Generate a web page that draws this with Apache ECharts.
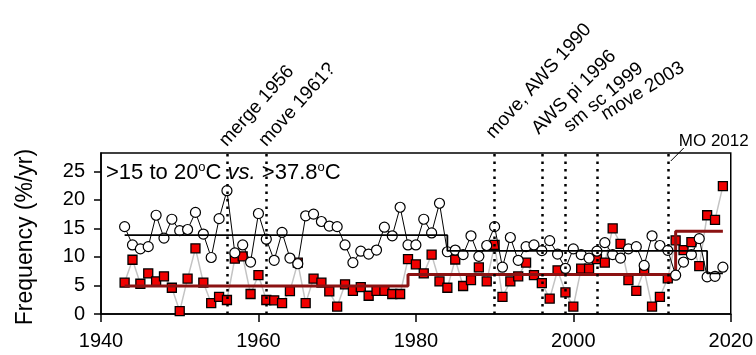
<!DOCTYPE html>
<html>
<head>
<meta charset="utf-8">
<script src="https://cdn.jsdelivr.net/npm/echarts@6/dist/echarts.min.js"></script>
<style>
  html, body { margin: 0; padding: 0; background: #fff; }
  #chart { width: 756px; height: 355px; }
</style>
</head>
<body>
<div id="chart"></div>
<script>
// Station years
const years = [
  1943, 1944, 1945, 1946, 1947, 1948, 1949, 1950, 1951, 1952,
  1953, 1954, 1955, 1956, 1957, 1958, 1959, 1960, 1961, 1962,
  1963, 1964, 1965, 1966, 1967, 1968, 1969, 1970, 1971, 1972,
  1973, 1974, 1975, 1976, 1977, 1978, 1979, 1980, 1981, 1982,
  1983, 1984, 1985, 1986, 1987, 1988, 1989, 1990, 1991, 1992,
  1993, 1994, 1995, 1996, 1997, 1998, 1999, 2000, 2001, 2002,
  2003, 2004, 2005, 2006, 2007, 2008, 2009, 2010, 2011, 2012,
  2013, 2014, 2015, 2016, 2017, 2018, 2019
];

// Frequency (%/yr) of days with max temperature >15 to 20 °C
const mildFreq = [
  15.3, 12.1, 11.4, 11.8, 17.3, 13.3, 16.6, 14.6, 14.8, 17.8,
  14.0, 9.9, 16.7, 21.6, 10.7, 12.1, 9.1, 17.6, 13.1, 9.4,
  14.3, 9.8, 8.8, 17.2, 17.5, 16.2, 15.4, 15.3, 12.1, 9.0,
  11.0, 10.5, 11.2, 15.2, 13.7, 18.7, 12.1, 12.1, 16.6, 14.2,
  19.4, 10.9, 11.2, 10.4, 13.7, 10.1, 12.0, 15.3, 8.2, 13.4,
  9.4, 11.8, 12.1, 11.1, 12.85, 10.5, 8.0, 11.4, 10.4, 9.8,
  11.0, 12.5, 10.4, 9.8, 11.4, 11.8, 8.5, 13.7, 12.0, 11.15,
  6.8, 9.1, 10.4, 13.2, 6.5, 6.6, 8.2
];

// Frequency (%/yr) of days with max temperature >37.8 °C
const hotFreq = [
  5.5, 9.5, 5.3, 7.1, 5.7, 6.6, 4.6, 0.5, 6.2, 11.5,
  5.5, 1.9, 3.0, 2.45, 9.7, 10.1, 3.5, 6.8, 2.45, 2.4,
  1.9, 4.0, 9.0, 1.9, 6.2, 5.5, 3.95, 1.3, 5.2, 4.05,
  4.7, 3.2, 4.05, 4.05, 3.5, 3.5, 9.6, 8.7, 7.1, 10.4,
  5.7, 4.6, 9.55, 4.9, 5.95, 8.15, 5.7, 12.1, 3.0, 5.7,
  6.6, 9.0, 6.8, 5.4, 2.7, 7.65, 3.8, 1.3, 7.95, 7.95,
  9.6, 9.0, 15.0, 12.3, 5.95, 4.05, 7.7, 1.3, 3.0, 6.25,
  12.9, 11.2, 12.6, 8.4, 17.3, 16.5, 22.4
];

// Segment means between detected change points
const mildStepBreaks = [1943, 1984, 2017, 2019];
const mildStepLevels = [13.8, 11.05, 7.1];
const hotStepBreaks = [1943, 1979, 2013, 2019];
const hotStepLevels = [4.9, 6.9, 14.5];

// Station history events
const eventYears = [1956, 1961, 1990, 1996, 1999, 2003, 2012];
const eventLabels = ['merge 1956', 'move 1961?', 'move, AWS 1990', 'AWS pi 1996',
                     'sm sc 1999', 'move 2003', 'MO 2012'];

// Axis ticks
const xTicks = [1940, 1960, 1980, 2000, 2020];
const yTicks = [0, 5, 10, 15, 20, 25];

const FONT = '"Liberation Sans", Arial, sans-serif';
const Y_TOP = 28.2;

function pairs(xs, ys) {
  return xs.map((x, i) => [x, ys[i]]);
}
function stepLine(breaks, levels) {
  const pts = [];
  levels.forEach((lv, i) => {
    pts.push([breaks[i], lv]);
    pts.push([breaks[i + 1], lv]);
  });
  return pts;
}

const chart = echarts.init(document.getElementById('chart'), null, { renderer: 'canvas' });

const option = {
  animation: false,
  backgroundColor: '#fff',
  grid: {
    left: 101, right: 25, top: 153, bottom: 41,
    show: true, borderColor: '#000', borderWidth: 1.5,
    backgroundColor: 'transparent'
  },
  xAxis: {
    type: 'value',
    min: xTicks[0], max: xTicks[xTicks.length - 1], interval: 20,
    axisLine: { onZero: false, lineStyle: { color: '#000', width: 1.5 } },
    axisTick: { length: 8, lineStyle: { color: '#000', width: 1.5 } },
    axisLabel: {
      color: '#000', fontSize: 20, fontFamily: FONT, margin: 17,
      formatter: v => String(v)
    },
    splitLine: { show: false }
  },
  yAxis: {
    type: 'value',
    min: 0, max: Y_TOP, interval: 5,
    axisLine: { show: true, lineStyle: { color: '#000', width: 1.5 } },
    axisTick: { show: true, length: 7, customValues: yTicks, lineStyle: { color: '#000', width: 1.5 } },
    axisLabel: {
      color: '#000', fontSize: 20, fontFamily: FONT, margin: 16,
      customValues: yTicks,
      formatter: v => String(v)
    },
    splitLine: { show: false }
  },
  series: [
    {
      // station history events as dotted verticals
      type: 'line',
      data: [],
      z: 1,
      silent: true,
      markLine: {
        silent: true,
        symbol: 'none',
        label: { show: false },
        lineStyle: { type: [2.5, 5], color: '#000', width: 2.5, cap: 'butt' },
        data: eventYears.map(y => ({ xAxis: y }))
      }
    },
    {
      name: '>37.8°C',
      type: 'line',
      data: pairs(years, hotFreq),
      z: 2,
      symbol: 'rect',
      symbolSize: 9,
      lineStyle: { color: '#c3c3c3', width: 1.5 },
      itemStyle: { color: '#f00000', borderColor: '#000', borderWidth: 1.3 }
    },
    {
      type: 'line',
      data: stepLine(hotStepBreaks, hotStepLevels),
      z: 3,
      symbol: 'none',
      lineStyle: { color: '#8b1212', width: 3 }
    },
    {
      name: '>15 to 20°C',
      type: 'line',
      data: pairs(years, mildFreq),
      z: 4,
      symbol: 'circle',
      symbolSize: 10,
      lineStyle: { color: '#000', width: 1 },
      itemStyle: { color: '#fff', borderColor: '#000', borderWidth: 1.2 }
    },
    {
      type: 'line',
      data: stepLine(mildStepBreaks, mildStepLevels),
      z: 5,
      symbol: 'none',
      lineStyle: { color: '#000', width: 1.8 }
    }
  ]
};

chart.setOption(option);

// Annotations placed from the axes' own pixel mapping
const plotTop = chart.convertToPixel({ gridIndex: 0 }, [1940, Y_TOP])[1];
const deg = Math.PI / 180;
// [dx from event line, baseline offset above plot top, angle in degrees]
const labelNudge = [[3, 3, 48], [3, 3, 48], [2, 11, 48], [0, 15, 45], [7, 17, 40], [11, 29, 32]];

const graphics = [];
eventYears.forEach((yr, i) => {
  const px = chart.convertToPixel({ gridIndex: 0 }, [yr, 0])[0];
  if (i < labelNudge.length) {
    graphics.push({
      type: 'text',
      x: px + labelNudge[i][0],
      y: plotTop - labelNudge[i][1],
      rotation: labelNudge[i][2] * deg,
      silent: true,
      style: {
        text: eventLabels[i],
        fill: '#000',
        fontSize: 19,
        fontFamily: FONT,
        align: 'left',
        verticalAlign: 'bottom'
      }
    });
  } else {
    // horizontal label with a short leader
    graphics.push({
      type: 'line',
      silent: true,
      shape: { x1: px + 3, y1: plotTop + 8, x2: px + 16, y2: plotTop - 5 },
      style: { stroke: '#000', lineWidth: 1 }
    });
    graphics.push({
      type: 'text',
      x: px + 11,
      y: plotTop - 3,
      silent: true,
      style: {
        text: eventLabels[i],
        fill: '#000',
        fontSize: 17,
        fontFamily: FONT,
        align: 'left',
        verticalAlign: 'bottom'
      }
    });
  }
});

// Panel title inside the plot
graphics.push({
  type: 'text',
  x: 106,
  y: 173,
  silent: true,
  style: {
    text: '>15 to 20{sup|o}C {it|vs.} >37.8{sup|o}C',
    fill: '#000',
    fontSize: 22,
    fontFamily: FONT,
    align: 'left',
    verticalAlign: 'middle',
    rich: {
      sup: { fontSize: 13, fontFamily: FONT, verticalAlign: 'top', lineHeight: 24 },
      it: { fontSize: 22, fontFamily: FONT, fontStyle: 'italic', lineHeight: 24 }
    }
  }
});

// Y-axis title
graphics.push({
  type: 'text',
  x: 26,
  y: 237,
  rotation: Math.PI / 2,
  silent: true,
  style: {
    text: 'Frequency (%/yr)',
    fill: '#000',
    fontSize: 23,
    fontFamily: FONT,
    align: 'center',
    verticalAlign: 'middle'
  }
});

chart.setOption({ graphic: graphics });
</script>
</body>
</html>
